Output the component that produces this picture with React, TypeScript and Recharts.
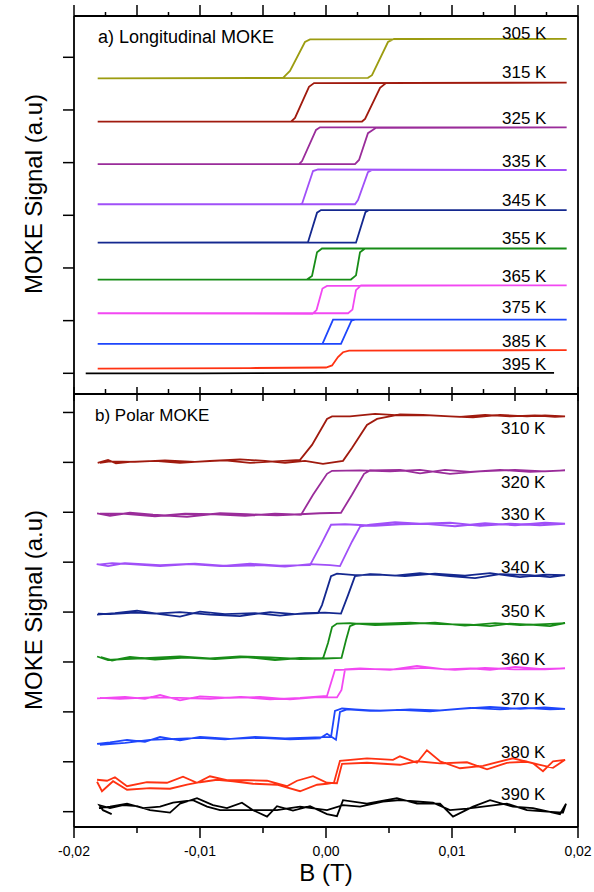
import React from 'react';
import { LineChart, Line, XAxis, YAxis } from 'recharts';

type Pt = [number, number];

// field B (T), signal (a.u., one y tick = 1). each loop in drawing order
const L305: Pt[] = [[-0.01812, 5.6], [0.00333, 5.61], [0.00365, 5.66], [0.00492, 6.29], [0.0054, 6.35], [0.0191, 6.35], [-0.00127, 6.34], [-0.00167, 6.29], [-0.00286, 5.74], [-0.00341, 5.61], [-0.01812, 5.6]];
const L315: Pt[] = [[-0.01812, 4.78], [0.00286, 4.78], [0.0031, 4.83], [0.00429, 5.42], [0.00476, 5.51], [0.0191, 5.52], [-0.00095, 5.51], [-0.00135, 5.44], [-0.00246, 4.85], [-0.00278, 4.78], [-0.01812, 4.78]];
const L325: Pt[] = [[-0.01812, 3.97], [0.0023, 3.97], [0.00262, 4.05], [0.00333, 4.56], [0.00397, 4.66], [0.0191, 4.67], [-0.00048, 4.67], [-0.00079, 4.62], [-0.0019, 4.03], [-0.00214, 3.97], [-0.01812, 3.97]];
const L335: Pt[] = [[-0.01812, 3.21], [0.0023, 3.21], [0.00254, 3.29], [0.00333, 3.82], [0.00365, 3.86], [0.0191, 3.86], [-0.00063, 3.87], [-0.00103, 3.84], [-0.0019, 3.22], [-0.00206, 3.21], [-0.01812, 3.21]];
const L345: Pt[] = [[-0.01812, 2.48], [0.00238, 2.48], [0.00313, 3.06], [0.00341, 3.1], [0.0191, 3.1], [-0.0004, 3.1], [-0.00071, 3.05], [-0.00143, 2.49], [-0.01812, 2.48]];
const L355: Pt[] = [[-0.01812, 1.78], [0.00198, 1.78], [0.00238, 1.86], [0.0027, 2.3], [0.0031, 2.37], [0.0191, 2.37], [-0.00032, 2.37], [-0.00071, 2.3], [-0.00111, 1.85], [-0.00151, 1.78], [-0.01812, 1.78]];
const L365: Pt[] = [[-0.01812, 1.14], [0.00175, 1.14], [0.0021, 1.21], [0.00238, 1.58], [0.00278, 1.67], [0.0191, 1.67], [0.00008, 1.66], [-0.00028, 1.61], [-0.00075, 1.2], [-0.00107, 1.13], [-0.01812, 1.14]];
const L375: Pt[] = [[-0.01812, 0.56], [0.00119, 0.56], [0.00202, 1.0], [0.0023, 1.02], [0.0191, 1.02], [0.00056, 1.02], [-0.00028, 0.56], [-0.01812, 0.56]];
const L385: Pt[] = [[-0.01812, 0.09], [-0.00603, 0.1], [0.0, 0.11], [0.00048, 0.15], [0.00095, 0.31], [0.00135, 0.4], [0.00183, 0.43], [0.0191, 0.44]];
const L395: Pt[] = [[-0.01907, 0.0], [-0.01, 0.0], [0.0, 0.01], [0.00984, 0.01], [0.0181, 0.01]];

const P310: Pt[] = [[-0.01812, 6.99], [-0.0173, 7.05], [-0.01667, 6.98], [-0.01556, 7.01], [-0.01357, 7.03], [-0.01159, 6.99], [-0.00921, 7.03], [-0.00683, 7.06], [-0.00484, 7.03], [-0.00325, 6.99], [-0.00167, 7.03], [-0.00024, 6.97], [0.00135, 7.03], [0.00206, 7.29], [0.00325, 7.75], [0.00405, 7.87], [0.00587, 7.96], [0.0077, 7.95], [0.00984, 7.92], [0.01167, 7.9], [0.01381, 7.95], [0.01595, 7.92], [0.01738, 7.94], [0.01897, 7.92],
  [0.01817, 7.91], [0.01659, 7.94], [0.0146, 7.92], [0.01262, 7.95], [0.01063, 7.91], [0.00825, 7.94], [0.00587, 7.94], [0.00389, 7.97], [0.0019, 7.92], [0.00048, 7.92], [0.00008, 7.87], [-0.00111, 7.35], [-0.00206, 7.05], [-0.00405, 7.02], [-0.00603, 6.99], [-0.00802, 7.04], [-0.0104, 7.01], [-0.01278, 7.04], [-0.01516, 7.01], [-0.01714, 7.02], [-0.01794, 6.99]];
const P320: Pt[] = [[-0.01817, 5.98], [-0.01714, 5.93], [-0.01556, 5.99], [-0.01373, 5.95], [-0.01103, 5.91], [-0.00841, 5.98], [-0.00627, 5.96], [-0.00389, 5.94], [-0.00206, 5.96], [-0.00048, 5.98], [0.00119, 5.99], [0.00206, 6.35], [0.00302, 6.77], [0.00349, 6.84], [0.00587, 6.85], [0.00746, 6.78], [0.00944, 6.85], [0.01143, 6.81], [0.01381, 6.85], [0.01619, 6.81], [0.01897, 6.84],
  [0.01738, 6.82], [0.015, 6.85], [0.01222, 6.82], [0.00984, 6.77], [0.00746, 6.85], [0.00508, 6.82], [0.0027, 6.84], [0.00048, 6.83], [0.00008, 6.77], [-0.00103, 6.35], [-0.00198, 5.95], [-0.00405, 5.97], [-0.00643, 5.93], [-0.00881, 5.96], [-0.01119, 5.97], [-0.01357, 5.92], [-0.01595, 5.97], [-0.01794, 5.97]];
const P330: Pt[] = [[-0.0182, 4.96], [-0.0173, 4.92], [-0.01595, 4.98], [-0.01317, 4.94], [-0.0104, 4.97], [-0.00762, 4.92], [-0.00524, 4.94], [-0.00325, 4.91], [-0.00127, 4.96], [0.00032, 4.94], [0.00111, 4.92], [0.00206, 5.41], [0.0027, 5.71], [0.00349, 5.75], [0.00548, 5.8], [0.00746, 5.77], [0.00984, 5.79], [0.01222, 5.73], [0.0146, 5.77], [0.01698, 5.74], [0.01897, 5.77],
  [0.01738, 5.79], [0.015, 5.74], [0.01262, 5.78], [0.01024, 5.72], [0.00786, 5.77], [0.00587, 5.76], [0.00389, 5.73], [0.00151, 5.76], [0.0004, 5.75], [-0.0004, 5.35], [-0.00127, 4.94], [-0.00365, 4.93], [-0.00603, 4.97], [-0.00841, 4.92], [-0.01079, 4.96], [-0.01317, 4.92], [-0.01556, 4.96], [-0.01698, 4.98], [-0.0181, 4.95]];
const P340: Pt[] = [[-0.01817, 3.95], [-0.01675, 3.98], [-0.015, 4.03], [-0.01317, 3.96], [-0.01159, 3.91], [-0.01, 4.01], [-0.00802, 3.96], [-0.00563, 3.98], [-0.00365, 3.93], [-0.00167, 3.98], [-0.00008, 3.99], [0.00119, 3.97], [0.00175, 4.34], [0.0023, 4.72], [0.00349, 4.76], [0.00548, 4.73], [0.00746, 4.78], [0.00984, 4.72], [0.01183, 4.68], [0.01381, 4.76], [0.01619, 4.74], [0.01778, 4.7], [0.01897, 4.74],
  [0.01738, 4.75], [0.0154, 4.7], [0.01302, 4.78], [0.01103, 4.73], [0.00865, 4.77], [0.00627, 4.72], [0.00429, 4.75], [0.0023, 4.74], [0.00087, 4.77], [0.0004, 4.72], [-0.00032, 4.14], [-0.00063, 3.98], [-0.00246, 3.96], [-0.00444, 4.0], [-0.00683, 3.92], [-0.00921, 3.95], [-0.01159, 4.0], [-0.01357, 3.97], [-0.01516, 3.99], [-0.01714, 3.96], [-0.0181, 3.97]];
const P350: Pt[] = [[-0.01817, 3.11], [-0.0173, 3.04], [-0.01595, 3.06], [-0.01397, 3.08], [-0.01159, 3.11], [-0.00921, 3.07], [-0.00683, 3.11], [-0.00444, 3.09], [-0.00206, 3.06], [-0.00008, 3.07], [0.00123, 3.08], [0.00159, 3.44], [0.0019, 3.72], [0.00238, 3.77], [0.00429, 3.77], [0.00667, 3.79], [0.00905, 3.76], [0.01143, 3.75], [0.01302, 3.72], [0.0146, 3.77], [0.01619, 3.75], [0.01778, 3.72], [0.01897, 3.78],
  [0.01738, 3.76], [0.0154, 3.74], [0.01341, 3.78], [0.01103, 3.73], [0.00865, 3.79], [0.00627, 3.76], [0.00389, 3.74], [0.0019, 3.78], [0.00087, 3.77], [0.00048, 3.7], [0.00016, 3.38], [-0.00024, 3.07], [-0.00206, 3.08], [-0.00405, 3.04], [-0.00643, 3.1], [-0.00881, 3.06], [-0.01119, 3.09], [-0.01357, 3.05], [-0.01556, 3.1], [-0.01698, 3.03], [-0.01786, 3.1]];
const P360: Pt[] = [[-0.01817, 2.27], [-0.01595, 2.3], [-0.01437, 2.26], [-0.01317, 2.34], [-0.01159, 2.23], [-0.01, 2.31], [-0.00762, 2.28], [-0.00524, 2.3], [-0.00286, 2.25], [-0.00087, 2.29], [0.00087, 2.29], [0.00123, 2.44], [0.00151, 2.85], [0.0027, 2.87], [0.00508, 2.84], [0.00722, 2.92], [0.00944, 2.85], [0.01143, 2.87], [0.01302, 2.84], [0.015, 2.9], [0.01698, 2.86], [0.01897, 2.87],
  [0.01738, 2.85], [0.015, 2.85], [0.01262, 2.88], [0.01024, 2.84], [0.00786, 2.88], [0.00548, 2.85], [0.0031, 2.86], [0.00111, 2.84], [0.00071, 2.84], [0.00008, 2.32], [-0.00206, 2.28], [-0.00444, 2.25], [-0.00683, 2.3], [-0.00921, 2.26], [-0.01159, 2.28], [-0.01397, 2.29], [-0.01635, 2.26], [-0.01794, 2.28]];
const P370: Pt[] = [[-0.01817, 1.36], [-0.01714, 1.39], [-0.01579, 1.44], [-0.01437, 1.4], [-0.01317, 1.5], [-0.01159, 1.43], [-0.01, 1.5], [-0.00762, 1.46], [-0.00524, 1.48], [-0.00286, 1.45], [-0.00048, 1.47], [0.00008, 1.56], [0.00079, 1.44], [0.00111, 2.0], [0.00167, 2.05], [0.00349, 2.02], [0.00587, 2.04], [0.00825, 2.01], [0.01063, 2.06], [0.01302, 2.1], [0.0154, 2.06], [0.01738, 2.09], [0.01897, 2.06],
  [0.01778, 2.05], [0.01579, 2.08], [0.01381, 2.05], [0.01143, 2.08], [0.00905, 2.03], [0.00667, 2.05], [0.00429, 2.02], [0.0023, 2.05], [0.00127, 2.07], [0.00071, 2.02], [0.0004, 1.5], [-0.00087, 1.49], [-0.00325, 1.47], [-0.00563, 1.5], [-0.00802, 1.45], [-0.01, 1.48], [-0.01198, 1.46], [-0.01397, 1.44], [-0.01595, 1.38], [-0.01794, 1.34]];
const P380: Pt[] = [[-0.01817, 0.6], [-0.01778, 0.41], [-0.0169, 0.61], [-0.01579, 0.44], [-0.01397, 0.47], [-0.01238, 0.46], [-0.01103, 0.54], [-0.01, 0.59], [-0.00865, 0.64], [-0.00738, 0.61], [-0.00579, 0.56], [-0.00389, 0.54], [-0.00206, 0.41], [-0.00071, 0.54], [0.00008, 0.56], [0.00063, 0.58], [0.00111, 1.02],
  [0.00325, 1.07], [0.00532, 1.04], [0.00587, 1.11], [0.00722, 0.98], [0.00801, 1.23], [0.00905, 1.01], [0.01063, 0.87], [0.01246, 0.92], [0.01484, 1.07], [0.01643, 0.97], [0.01722, 0.81], [0.01802, 1.01], [0.01897, 1.04],
  [0.01802, 0.88], [0.01698, 0.94], [0.01595, 1.0], [0.01436, 0.98], [0.01278, 0.85], [0.01119, 0.99], [0.00905, 0.97], [0.00722, 1.01], [0.00587, 0.94], [0.00325, 0.98], [0.00127, 0.96], [0.00087, 0.57],
  [0.00008, 0.58], [-0.00103, 0.71], [-0.0023, 0.62], [-0.0031, 0.51], [-0.00468, 0.62], [-0.00627, 0.63], [-0.00786, 0.63], [-0.00921, 0.71], [-0.01024, 0.58], [-0.01135, 0.7], [-0.01262, 0.58], [-0.01421, 0.59], [-0.01579, 0.51], [-0.01675, 0.69], [-0.01738, 0.62], [-0.01817, 0.64]];
const P390: Pt[] = [[-0.01701, -0.05], [-0.0177, 0.03], [-0.01798, 0.13], [-0.01714, 0.07], [-0.01611, 0.13], [-0.015, 0.11], [-0.01397, 0.03], [-0.01238, -0.02], [-0.01159, 0.16], [-0.01024, 0.27], [-0.00897, 0.13], [-0.00786, 0.07], [-0.00667, 0.18], [-0.00579, 0.03], [-0.00468, -0.1], [-0.00389, 0.11], [-0.00262, 0.02], [-0.00127, 0.11], [0.00008, -0.05], [0.00087, -0.09], [0.00135, 0.23], [0.00325, 0.16], [0.00563, 0.27], [0.00722, 0.16], [0.00905, 0.16], [0.01008, -0.1], [0.01167, 0.1], [0.01302, 0.23], [0.01484, 0.1], [0.01643, 0.07], [0.01857, -0.05], [0.01905, 0.16],
  [0.01881, -0.02], [0.01754, 0.0], [0.01595, 0.03], [0.01436, 0.16], [0.01278, 0.11], [0.01119, 0.06], [0.00984, 0.03], [0.00849, 0.18], [0.00587, 0.23], [0.00452, 0.2], [0.0027, 0.1], [0.00135, 0.13], [0.00008, 0.03], [-0.00206, 0.1], [-0.00286, 0.07], [-0.00389, 0.03], [-0.00548, 0.03], [-0.00683, 0.03], [-0.00841, 0.03], [-0.00944, 0.1], [-0.01056, 0.23], [-0.01214, 0.18], [-0.01317, 0.1], [-0.01452, 0.07], [-0.01579, 0.16], [-0.01714, 0.1], [-0.01802, 0.07]];

const longLoops = [L305, L315, L325, L335, L345, L355, L365, L375, L385, L395];
const polarLoops = [P310, P320, P330, P340, P350, P360, P370, P380, P390];
const longTemps = ['305 K', '315 K', '325 K', '335 K', '345 K', '355 K', '365 K', '375 K', '385 K', '395 K'];
const polarTemps = ['310 K', '320 K', '330 K', '340 K', '350 K', '360 K', '370 K', '380 K', '390 K'];

const longColors = ['#9c9c10', '#a01a0e', '#9a2c9a', '#a050f8', '#14288f', '#178c17', '#f248f2', '#1e46fc', '#ff3212', '#000000'];
const polarColors = longColors.slice(1);

const majorFine = [-0.02, -0.015, -0.01, -0.005, 0, 0.005, 0.01, 0.015, 0.02];
const minorFine = [-0.0175, -0.0125, -0.0075, -0.0025, 0.0025, 0.0075, 0.0125, 0.0175];
const majorCoarse = [-0.02, -0.01, 0, 0.01, 0.02];
const minorCoarse = [-0.015, -0.005, 0.005, 0.015];
const xTickLabels = ['-0,02', '-0,01', '0,00', '0,01', '0,02'];
const longYTicks = [0, 1, 2, 3, 4, 5, 6];
const polarYTicks = [0, 1, 2, 3, 4, 5, 6, 7, 8];

// label placement (px), kept apart from the data
const longLabelY = [39, 78, 124, 167, 206, 244, 282, 313, 347, 370];
const polarLabelY = [434, 488, 520, 573, 617, 665, 705, 758, 800];

const FONT = '"Liberation Sans", Arial, sans-serif';
const INK = '#000';
const AXIS = { stroke: INK, strokeWidth: 1.8 };

const sorted = (a: number[], b: number[]) => [...a, ...b].sort((p, q) => p - q);
const isIn = (list: number[], v: number) => list.some((t) => Math.abs(t - v) < 1e-9);
const rows = (loop: Pt[]) => loop.map(([b, s]) => ({ b, s }));

const vTick = (majors: number[], majorLen: number, minorLen: number, dir: number) => (props: any) => {
  const { x, y, payload } = props;
  const len = isIn(majors, payload.value) ? majorLen : minorLen;
  return <line x1={x} x2={x} y1={y} y2={y + dir * len} stroke={INK} strokeWidth={1.5} />;
};

const leftTick = (props: any) => {
  const { x, y } = props;
  return <line x1={x} x2={x - 11} y1={y} y2={y} stroke={INK} strokeWidth={1.5} />;
};

const labelledTick = (props: any) => {
  const { x, y, payload } = props;
  const idx = majorCoarse.findIndex((t) => Math.abs(t - payload.value) < 1e-9);
  const len = idx >= 0 ? 11 : 6;
  return (
    <g>
      <line x1={x} x2={x} y1={y} y2={y + len} stroke={INK} strokeWidth={1.5} />
      {idx >= 0 && (
        <text x={x} y={y + 29} textAnchor="middle" fontSize={14} fontFamily={FONT} fill={INK}>
          {xTickLabels[idx]}
        </text>
      )}
    </g>
  );
};

const xCommon = { type: 'number' as const, dataKey: 'b', domain: [-0.02, 0.02], allowDataOverflow: true, interval: 0, height: 1, tickSize: 0, tickMargin: 0, tickLine: false };

const Panel = ({ loops, colors, yDomain, yTicks, height, margin, bottomTick, bottomTicks, topTicks, topTick }: any) => (
  <LineChart width={594} height={height} margin={margin}>
    <XAxis xAxisId="top" orientation="top" {...xCommon} ticks={topTicks} tick={topTick} axisLine={AXIS} />
    <XAxis xAxisId="bottom" orientation="bottom" {...xCommon} ticks={bottomTicks} tick={bottomTick} axisLine={AXIS} />
    <YAxis yAxisId="left" type="number" domain={yDomain} allowDataOverflow ticks={yTicks} interval={0} width={1} tickSize={0} tickMargin={0} tickLine={false} tick={leftTick} axisLine={AXIS} />
    <YAxis yAxisId="right" orientation="right" type="number" domain={yDomain} allowDataOverflow ticks={yTicks} width={1} tickLine={false} tick={false} axisLine={AXIS} />
    {loops.map((loop: Pt[], i: number) => (
      <Line key={i} xAxisId="top" yAxisId="left" data={rows(loop)} dataKey="s" type="linear" stroke={colors[i]} strokeWidth={1.8} dot={false} isAnimationActive={false} />
    ))}
  </LineChart>
);

export default function App() {
  return (
    <div style={{ position: 'absolute', left: 0, top: 0, width: 594, height: 892, background: '#fff' }}>
      <div style={{ position: 'absolute', left: 0, top: 0 }}>
        <Panel
          loops={longLoops}
          colors={longColors}
          yDomain={[-0.393, 6.784]}
          yTicks={longYTicks}
          height={410}
          margin={{ top: 15, right: 15, bottom: 15, left: 73 }}
          topTicks={sorted(majorFine, minorFine)}
          topTick={vTick(majorFine, 11, 4, -1)}
          bottomTicks={majorFine}
          bottomTick={vTick(majorFine, 7, 7, 1)}
        />
      </div>
      <div style={{ position: 'absolute', left: 0, top: 380 }}>
        <Panel
          loops={polarLoops}
          colors={polarColors}
          yDomain={[-0.307, 8.37]}
          yTicks={polarYTicks}
          height={512}
          margin={{ top: 13, right: 15, bottom: 64, left: 73 }}
          topTicks={sorted(majorFine, minorFine)}
          topTick={vTick(majorFine, 7, 5, -1)}
          bottomTicks={sorted(majorCoarse, minorCoarse)}
          bottomTick={labelledTick}
        />
      </div>
      <svg width={594} height={892} style={{ position: 'absolute', left: 0, top: 0, pointerEvents: 'none' }} fontFamily={FONT} fill={INK}>
        <text x={98} y={43} fontSize={18}>a) Longitudinal MOKE</text>
        <text x={95} y={421} fontSize={17}>b) Polar MOKE</text>
        {longTemps.map((t, i) => (
          <text key={t} x={502} y={longLabelY[i]} fontSize={17}>{t}</text>
        ))}
        {polarTemps.map((t, i) => (
          <text key={t} x={501} y={polarLabelY[i]} fontSize={17}>{t}</text>
        ))}
        <text transform="translate(42,194) rotate(-90)" textAnchor="middle" fontSize={24}>MOKE Signal (a.u)</text>
        <text transform="translate(42,610) rotate(-90)" textAnchor="middle" fontSize={24}>MOKE Signal (a.u)</text>
        <text x={326} y={881} textAnchor="middle" fontSize={24}>B (T)</text>
      </svg>
    </div>
  );
}
